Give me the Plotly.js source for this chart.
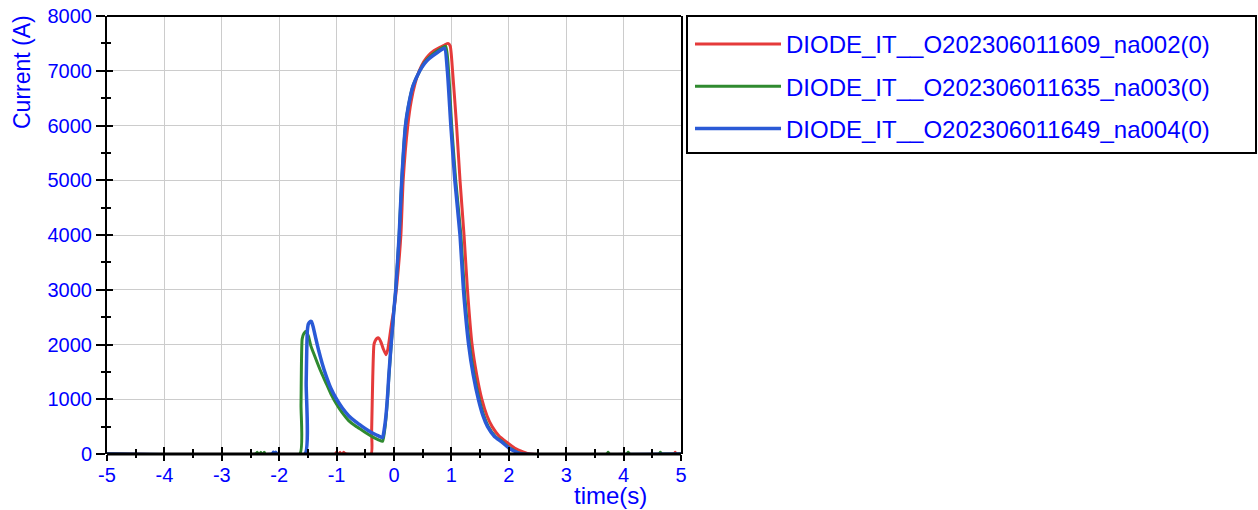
<!DOCTYPE html>
<html>
<head>
<meta charset="utf-8">
<script src="https://cdn.plot.ly/plotly-3.0.1.min.js"></script>
<style>
html,body{margin:0;padding:0;background:#fff;}
#chart{width:1258px;height:510px;}
</style>
</head>
<body>
<div id="chart"></div>
<script>
// ---- data ----
const seriesNames = [
  'DIODE_IT__O202306011609_na002(0)',
  'DIODE_IT__O202306011635_na003(0)',
  'DIODE_IT__O202306011649_na004(0)'
];

const redT = [-5, -1.02, -1.0, -0.97, -0.94, -0.91, -0.88, -0.84, -0.4, -0.39, -0.37, -0.35, -0.33, -0.3, -0.27, -0.23, -0.19, -0.14, -0.11, -0.08, -0.04, 0, 0.05, 0.12, 0.16, 0.24, 0.3, 0.37, 0.44, 0.52, 0.6, 0.7, 0.8, 0.88, 0.94, 0.98, 1.02, 1.09, 1.15, 1.22, 1.28, 1.36, 1.44, 1.53, 1.62, 1.71, 1.83, 1.96, 2.1, 2.25, 2.37, 4.88, 4.9, 4.92, 5];
const redI = [0, 0, 30, -30, 30, -30, 30, 0, 0, 400, 1400, 1990, 2060, 2110, 2120, 2050, 1930, 1815, 1900, 2100, 2400, 2650, 3100, 4000, 5000, 6000, 6450, 6780, 7000, 7170, 7280, 7370, 7430, 7470, 7500, 7450, 7000, 6000, 5000, 4000, 3000, 2000, 1450, 1000, 700, 500, 330, 220, 110, 40, 0, 0, 30, -30, 0];

const greenT = [-5, -2.41, -2.38, -2.35, -2.32, -2.29, -2.26, -2.25, -1.64, -1.62, -1.6, -1.57, -1.53, -1.49, -1.45, -1.4, -1.36, -1.28, -1.19, -1.1, -1.0, -0.9, -0.79, -0.67, -0.55, -0.45, -0.35, -0.27, -0.2, -0.17, -0.14, -0.11, -0.09, -0.05, 0, 0.03, 0.09, 0.135, 0.2, 0.25, 0.33, 0.45, 0.53, 0.61, 0.75, 0.9, 0.95, 1.005, 1.075, 1.165, 1.225, 1.315, 1.395, 1.485, 1.565, 1.645, 1.765, 1.885, 2.015, 2.115, 2.24, 3.71, 3.73, 3.75, 4.06, 4.08, 4.1, 4.62, 4.64, 4.66, 5];
const greenI = [0, 0, 30, -30, 30, -30, 30, 0, 0, 900, 2100, 2200, 2240, 2150, 1980, 1840, 1730, 1520, 1310, 1100, 910, 750, 610, 510, 430, 360, 300, 260, 230, 380, 650, 1050, 1400, 1980, 2650, 3000, 4000, 5000, 6000, 6350, 6720, 7000, 7150, 7240, 7360, 7450, 7000, 6000, 5000, 4000, 3000, 2000, 1450, 1000, 700, 500, 320, 225, 110, 50, 0, 0, 30, 0, 0, 30, 0, 0, 30, 0, 0];

const blueT = [-5, -2.12, -2.1, -2.08, -2.06, -2.04, -1.55, -1.53, -1.51, -1.49, -1.46, -1.44, -1.41, -1.36, -1.31, -1.25, -1.19, -1.1, -1.0, -0.9, -0.79, -0.67, -0.55, -0.45, -0.35, -0.27, -0.2, -0.17, -0.14, -0.11, -0.09, -0.05, 0, 0.03, 0.09, 0.135, 0.2, 0.25, 0.33, 0.45, 0.53, 0.61, 0.75, 0.88, 0.93, 0.99, 1.06, 1.15, 1.21, 1.3, 1.38, 1.47, 1.55, 1.63, 1.75, 1.87, 2.0, 2.1, 2.22, 5];
const blueI = [0, 0, 30, -30, 30, 0, 0, 1300, 2250, 2380, 2420, 2420, 2330, 2100, 1880, 1650, 1450, 1200, 1000, 840, 700, 590, 500, 430, 370, 330, 300, 450, 700, 1100, 1440, 2000, 2650, 3000, 4000, 5000, 6000, 6350, 6720, 7000, 7130, 7220, 7330, 7410, 7000, 6000, 5000, 4000, 3000, 2000, 1450, 1000, 700, 500, 320, 225, 110, 50, 0, 0];

const xTickVals = [-5, -4, -3, -2, -1, 0, 1, 2, 3, 4, 5];
const xTickText = ['-5', '-4', '-3', '-2', '-1', '0', '1', '2', '3', '4', '5'];
const yTickVals = [0, 1000, 2000, 3000, 4000, 5000, 6000, 7000, 8000];
const yTickText = ['0', '1000', '2000', '3000', '4000', '5000', '6000', '7000', '8000'];
const xTitle = 'time(s)';
const yTitle = 'Current (A)';

// ---- styling ----
const FONT = 'Arial, "Liberation Sans", sans-serif';
const BLUE_TXT = '#0000ff';
const colors = ['#e53a3a', '#2f8a2f', '#2a5ad6'];
const widths = [3, 3, 3.5];

const xs = [redT, greenT, blueT];
const ys = [redI, greenI, blueI];
const traces = seriesNames.map((n, i) => ({
  type: 'scatter', mode: 'lines', name: n,
  x: xs[i], y: ys[i],
  legendgroup: 'g' + i,
  line: {color: colors[i], width: widths[i], shape: 'spline', smoothing: 0.5},
  hoverinfo: 'skip'
}));
// invisible helper traces so the overlaid tick-only axes (ticks crossing the axis line) are drawn
const helper = (xa, ya) => ({type: 'scatter', mode: 'markers', x: [xTickVals[0]], y: [yTickVals[0]],
  xaxis: xa, yaxis: ya, showlegend: false, hoverinfo: 'skip', marker: {size: 1, opacity: 0}});
traces.push(helper('x2', 'y'));
traces.push(helper('x', 'y2'));

const W = 574, H = 438;
const tickCommon = {tickcolor: '#000', tickwidth: 2};
const layout = {
  width: 1258, height: 510,
  margin: {l: 107, r: 1258 - 107 - W, t: 16, b: 510 - 16 - H, pad: 0},
  paper_bgcolor: '#ffffff', plot_bgcolor: '#ffffff',
  font: {family: FONT, color: BLUE_TXT, size: 20},
  showlegend: true,
  legend: {
    x: (690 - 107) / W, y: 1 - 6 / H, xanchor: 'left', yanchor: 'top',
    bgcolor: 'rgba(0,0,0,0)', borderwidth: 0,
    font: {family: FONT, size: 24, color: BLUE_TXT},
    itemwidth: 86, tracegroupgap: 8, traceorder: 'grouped'
  },
  // main x axis: labels + inner half of the ticks
  xaxis: Object.assign({
    range: [-5, 5], tickmode: 'array', tickvals: xTickVals, ticktext: xTickText,
    ticks: 'inside', ticklen: 7, ticklabelstandoff: 7,
    minor: Object.assign({tickmode: 'linear', tick0: -4.5, dtick: 1, ticks: 'inside', ticklen: 5, showgrid: false}, tickCommon),
    showgrid: true, gridcolor: '#cccccc', gridwidth: 1, zeroline: false,
    showline: false,
    tickfont: {family: FONT, size: 20, color: BLUE_TXT}, fixedrange: true
  }, tickCommon),
  // overlaid x axis: outer half of the ticks
  xaxis2: Object.assign({
    overlaying: 'x', anchor: 'y', side: 'bottom', range: [-5, 5],
    tickmode: 'array', tickvals: xTickVals, ticks: 'outside', ticklen: 6,
    minor: Object.assign({tickmode: 'linear', tick0: -4.5, dtick: 1, ticks: 'outside', ticklen: 3, showgrid: false}, tickCommon),
    showticklabels: false, showgrid: false, zeroline: false, showline: false, fixedrange: true
  }, tickCommon),
  yaxis: Object.assign({
    range: [0, 8000], tickmode: 'array', tickvals: yTickVals, ticktext: yTickText,
    ticks: 'outside', ticklen: 9,
    minor: Object.assign({tickmode: 'linear', tick0: 500, dtick: 1000, ticks: 'outside', ticklen: 4, showgrid: false}, tickCommon),
    showgrid: true, gridcolor: '#cccccc', gridwidth: 1, zeroline: false,
    showline: true, linecolor: '#000', linewidth: 2, mirror: true,
    tickfont: {family: FONT, size: 20, color: BLUE_TXT}, fixedrange: true
  }, tickCommon),
  yaxis2: Object.assign({
    overlaying: 'y', anchor: 'x', side: 'left', range: [0, 8000],
    tickmode: 'array', tickvals: yTickVals, ticks: 'inside', ticklen: 6,
    minor: Object.assign({tickmode: 'linear', tick0: 500, dtick: 1000, ticks: 'inside', ticklen: 4, showgrid: false}, tickCommon),
    showticklabels: false, showgrid: false, zeroline: false, showline: false, fixedrange: true
  }, tickCommon),
  shapes: [
    // bottom axis line (covers the zero-level parts of the traces, as in the reference)
    {type: 'line', xref: 'paper', yref: 'paper', x0: 0, x1: 1, y0: 0, y1: 0, line: {color: '#000', width: 3}, layer: 'above'},
    // top frame line
    {type: 'line', xref: 'paper', yref: 'paper', x0: 0, x1: 1, y0: 1, y1: 1, line: {color: '#000', width: 2}, layer: 'above'},
    // legend frame
    {type: 'rect', xref: 'paper', yref: 'paper', x0: (687 - 107) / W, x1: (1256 - 107) / W, y0: (454 - 153) / H, y1: 1,
     line: {color: '#000', width: 2}, fillcolor: 'rgba(0,0,0,0)', layer: 'above'}
  ],
  annotations: [
    {text: xTitle, xref: 'paper', yref: 'paper', x: (610 - 107) / W, y: -(495 - 454) / H,
     xanchor: 'center', yanchor: 'middle', showarrow: false, font: {family: FONT, size: 24, color: BLUE_TXT}},
    {text: yTitle, xref: 'paper', yref: 'paper', x: (22 - 107) / W, y: 1 - (72 - 16) / H, textangle: -90,
     xanchor: 'center', yanchor: 'middle', showarrow: false, font: {family: FONT, size: 23, color: BLUE_TXT}}
  ]
};

Plotly.newPlot('chart', traces, layout, {staticPlot: true, displayModeBar: false});
</script>
</body>
</html>
